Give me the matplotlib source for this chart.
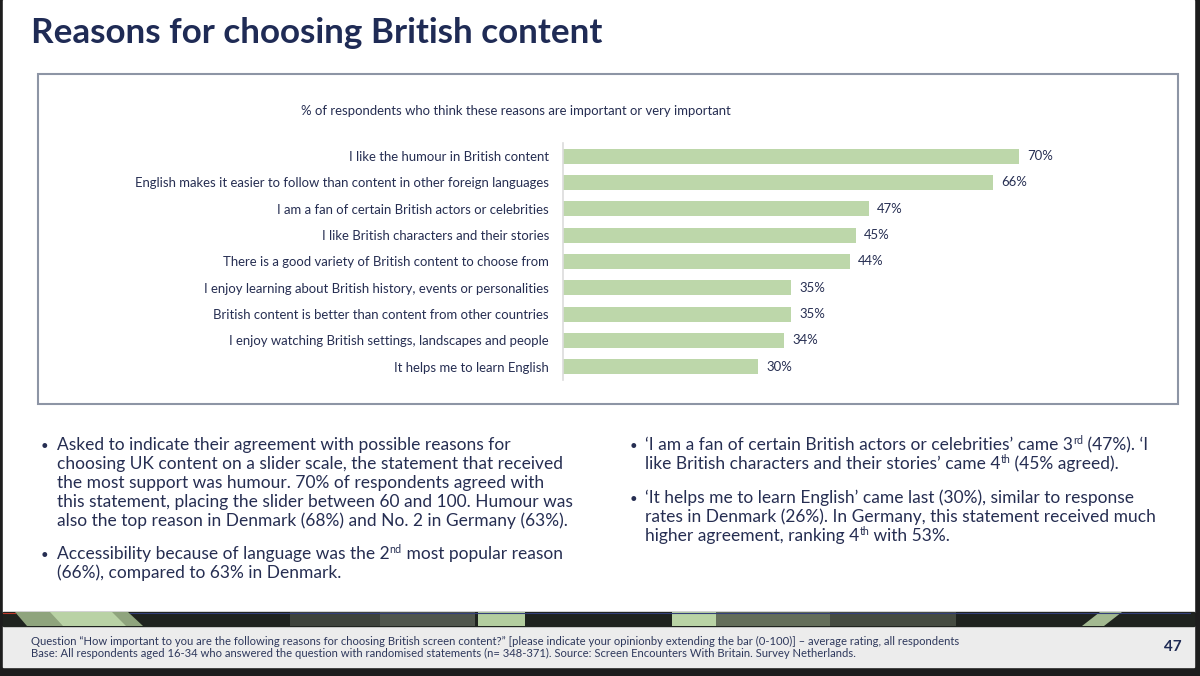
import re
import numpy as np
import matplotlib.pyplot as plt
from matplotlib.patches import Rectangle, Polygon

plt.rcParams['font.family'] = ['Lato', 'DejaVu Sans']

# ---------------------------------------------------------------
# Data
# ---------------------------------------------------------------
reasons = [
    "I like the humour in British content",
    "English makes it easier to follow than content in other foreign languages",
    "I am a fan of certain British actors or celebrities",
    "I like British characters and their stories",
    "There is a good variety of British content to choose from",
    "I enjoy learning about British history, events or personalities",
    "British content is better than content from other countries",
    "I enjoy watching British settings, landscapes and people",
    "It helps me to learn English",
]
pct = [70, 66, 47, 45, 44, 35, 35, 34, 30]

title = "Reasons for choosing British content"
subtitle = "% of respondents who think these reasons are important or very important"

# <sup>..</sup> marks superscript text
bullets_left = [
    ["Asked to indicate their agreement with possible reasons for",
     "choosing UK content on a slider scale, the statement that received",
     "the most support was humour. 70% of respondents agreed with",
     "this statement, placing the slider between 60 and 100. Humour was",
     "also the top reason in Denmark (68%) and No. 2 in Germany (63%)."],
    ["Accessibility because of language was the 2<sup>nd</sup> most popular reason",
     "(66%), compared to 63% in Denmark."],
]
bullets_right = [
    ["\u2018I am a fan of certain British actors or celebrities\u2019 came 3<sup>rd</sup> (47%). \u2018I",
     "like British characters and their stories\u2019 came 4<sup>th</sup> (45% agreed)."],
    ["\u2018It helps me to learn English\u2019 came last (30%), similar to response",
     "rates in Denmark (26%). In Germany, this statement received much",
     "higher agreement, ranking 4<sup>th</sup> with 53%."],
]
footer = [
    "Question \u201cHow important to you are the following reasons for choosing British screen content?\u201d "
    "[please indicate your opinionby extending the bar (0-100)] \u2013 average rating, all respondents",
    "Base: All respondents aged 16-34 who answered the question with randomised statements (n= 348-371). "
    "Source: Screen Encounters With Britain. Survey Netherlands.",
]
page_no = "47"

navy = '#1f2b55'
txt = '#262e52'
bar_col = '#bdd7aa'

# ---------------------------------------------------------------
# Slide background (pixel coordinates)
# ---------------------------------------------------------------
W, H = 1200, 676
fig = plt.figure(figsize=(W / 100, H / 100), dpi=100)
fig.patch.set_facecolor('#1d1d1d')
bg = fig.add_axes([0, 0, 1, 1])
bg.set_xlim(0, W)
bg.set_ylim(H, 0)
bg.axis('off')
renderer = fig.canvas.get_renderer()


def fit(s, target, **kw):
    # font size that gives the string the wanted width in pixels
    t = bg.text(0, 0, s, fontsize=10, **kw)
    w = t.get_window_extent(renderer).width
    t.remove()
    return 10 * target / w


bg.add_patch(Rectangle((3, 0), 1191, 612, color='white', zorder=0))
bg.add_patch(Rectangle((3, 626), 1191, 41, color='#ececec', zorder=0))

# decorative band
bg.add_patch(Rectangle((3, 612), 1191, 14, color='#1f231f', zorder=1))
band = [
    ([(15, 612), (128, 612), (143, 626), (27, 626)], '#8fa47d'),
    ([(50, 612), (112, 612), (126, 626), (63, 626)], '#b9d2a5'),
    ([(290, 612), (475, 612), (475, 626), (290, 626)], '#3e433c'),
    ([(380, 612), (475, 612), (475, 626), (380, 626)], '#50564d'),
    ([(478, 612), (525, 612), (525, 626), (478, 626)], '#b3cd9f'),
    ([(672, 612), (716, 612), (716, 626), (672, 626)], '#b9d3a5'),
    ([(716, 612), (830, 612), (830, 626), (716, 626)], '#646e5a'),
    ([(830, 612), (956, 612), (956, 626), (830, 626)], '#454b41'),
    ([(1100, 612), (1122, 612), (1104, 626), (1082, 626)], '#a3b991'),
]
for pts, c in band:
    bg.add_patch(Polygon(pts, closed=True, color=c, lw=0, zorder=2))
bg.plot([130, 1190], [612.5, 612.5], color='#34407a', lw=0.8, zorder=3)
bg.plot([3, 15], [612.5, 612.5], color='#c0392b', lw=0.8, zorder=3)

# chart frame
bg.add_patch(Rectangle((38, 74), 1140, 330, fill=False, ec='#8d95a5', lw=1.5, zorder=3))

# title
fs = fit(title, 573, fontweight='bold')
bg.text(31, 33, title, fontsize=fs, fontweight='bold', color=navy, va='center', ha='left')

fs = fit(subtitle, 430)
bg.text(301, 111, subtitle, fontsize=fs, color=txt, va='center', ha='left')

# ---------------------------------------------------------------
# Bar chart
# ---------------------------------------------------------------
x0, x_right, y_top, y_bot = 563, 1100, 143, 380
px_per_pct = (1019 - x0) / 70
ax = fig.add_axes([x0 / W, 1 - y_bot / H, (x_right - x0) / W, (y_bot - y_top) / H])
ax.set_facecolor('none')
y = np.arange(len(reasons))
ax.barh(y, pct, height=0.57, color=bar_col)
ax.set_xlim(0, (x_right - x0) / px_per_pct)
ax.set_ylim(len(reasons) - 0.5, -0.5)

lab_fs = fit(reasons[1], 416)
ax.set_yticks(y)
ax.set_yticklabels(reasons, fontsize=lab_fs, color=txt)
ax.tick_params(axis='y', length=0, pad=10)
ax.set_xticks([])
for s in ['top', 'right', 'bottom']:
    ax.spines[s].set_visible(False)
ax.spines['left'].set_color('#dcdcdc')
ax.spines['left'].set_linewidth(1.2)

for i, v in enumerate(pct):
    ax.text(v + 8 / px_per_pct, i, f"{v}%", fontsize=lab_fs, color=txt, va='center', ha='left')

# ---------------------------------------------------------------
# Commentary bullets (y given as text baseline)
# ---------------------------------------------------------------
body_fs = fit(bullets_left[0][3], 515)
line_h = 19


def draw_line(x, y0, line):
    # plain runs and superscript runs, drawn one after the other
    parts = re.split(r'<sup>(.*?)</sup>', line)
    for j, part in enumerate(parts):
        if not part:
            continue
        sup = j % 2 == 1
        t = bg.text(x, y0 - (6 if sup else 0), part, color=txt, va='baseline',
                    fontsize=body_fs * (0.62 if sup else 1))
        x += t.get_window_extent(renderer).width


def draw_bullets(groups, xb, xt, ys):
    for lines, y0 in zip(groups, ys):
        bg.text(xb, y0, "\u2022", fontsize=body_fs * 0.75, color=txt, va='baseline')
        for k, line in enumerate(lines):
            draw_line(xt, y0 + k * line_h, line)


draw_bullets(bullets_left, 41, 57, [450, 559])
draw_bullets(bullets_right, 630, 645, [450, 503])

# footer
foot_fs = fit(footer[0], 928)
bg.text(31, 641, footer[0], fontsize=foot_fs, color='#2e385c', va='center')
bg.text(31, 653, footer[1], fontsize=foot_fs, color='#2e385c', va='center')
bg.text(1182, 647, page_no, fontsize=11, fontweight='bold', color=navy, va='center', ha='right')

fig.savefig('out.png', dpi=100, facecolor=fig.get_facecolor())
